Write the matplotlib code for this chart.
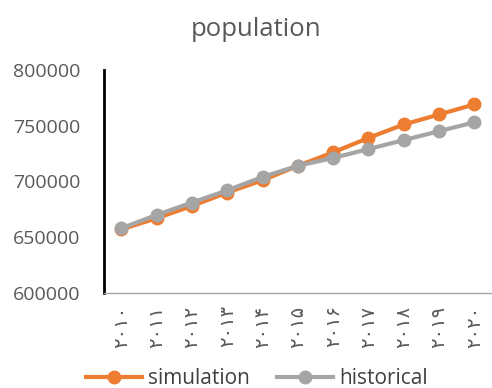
import matplotlib.pyplot as plt

years = ['۲۰۱۰', '۲۰۱۱', '۲۰۱۲', '۲۰۱۳', '۲۰۱۴', '۲۰۱۵',
         '۲۰۱۶', '۲۰۱۷', '۲۰۱۸', '۲۰۱۹', '۲۰۲۰']
simulation = [657000, 667000, 678000, 690000, 701000, 714000,
              726000, 739000, 751000, 760000, 769000]
historical = [658000, 670000, 681000, 692000, 704000, 714000,
              721000, 729000, 737000, 745000, 753000]

plt.rcParams['font.family'] = ['Open Sans', 'DejaVu Sans']
fig = plt.figure(figsize=(4.92, 3.88), dpi=100)
ax = fig.add_axes([0.211, 0.245, 0.789, 0.575])

x = range(len(years))
ax.plot(x, simulation, color='#ED7D31', lw=3, marker='o', ms=9, label='simulation', zorder=3)
ax.plot(x, historical, color='#A5A5A5', lw=3, marker='o', ms=9, label='historical', zorder=4)

ax.set_xlim(-0.5, len(years) - 0.5)
ax.set_ylim(600000, 800000)
ax.set_yticks(range(600000, 800001, 50000))
ax.set_xticks(list(x))
ax.set_xticklabels(years, rotation=90, fontsize=14, color='#595959',
                   family=['DejaVu Sans'])
ax.tick_params(axis='y', labelsize=14, colors='#595959', length=0, pad=17)
ax.tick_params(axis='x', length=0, pad=9)

for s in ['top', 'right']:
    ax.spines[s].set_visible(False)
ax.spines['left'].set_color('black')
ax.spines['left'].set_linewidth(2)
ax.spines['bottom'].set_color('#A6A6A6')
ax.spines['bottom'].set_linewidth(1)

fig.suptitle('population', x=0.52, y=0.955, fontsize=18.5, color='#595959')
fig.legend(loc='center', bbox_to_anchor=(0.522, 0.024), ncol=2, frameon=False,
           fontsize=15, labelcolor='#404040', handlelength=2.7, columnspacing=1.3,
           handletextpad=0.3)

fig.savefig('out.png', dpi=100)
